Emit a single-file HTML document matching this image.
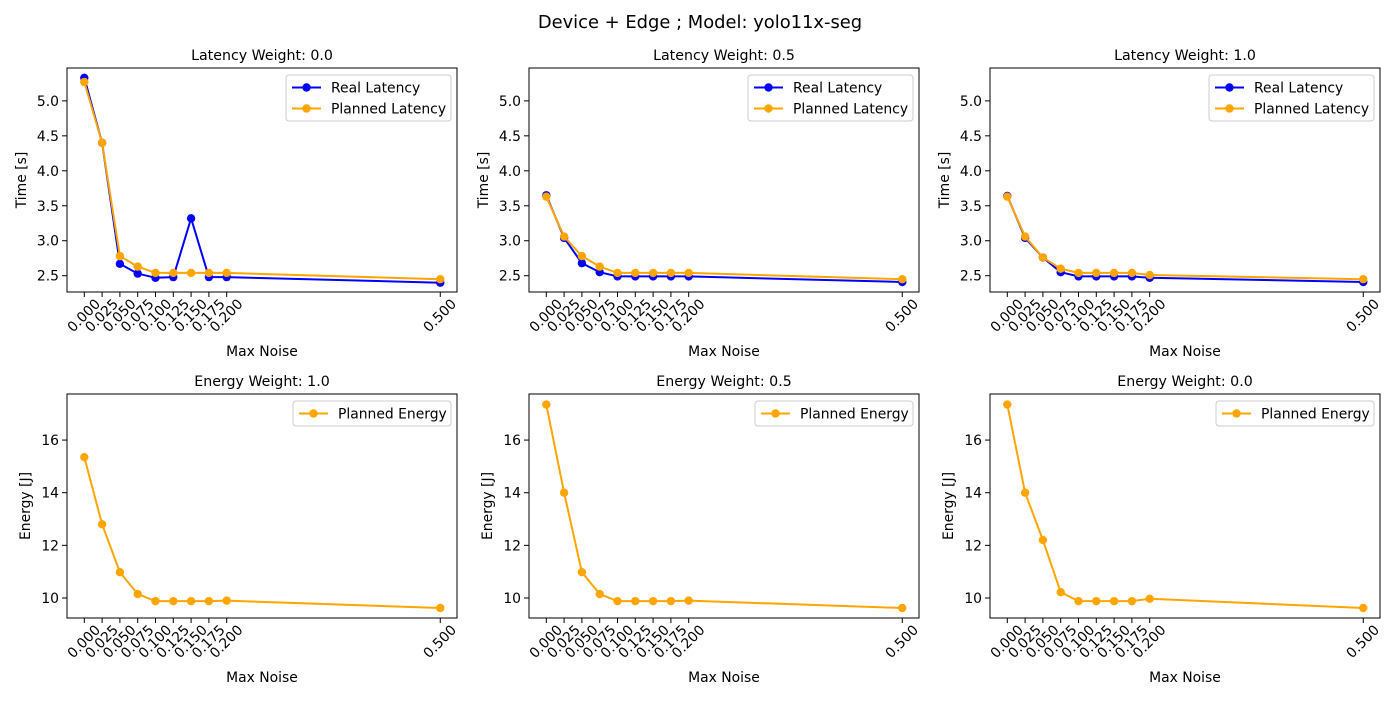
<!DOCTYPE html>
<html><head><meta charset="utf-8"><style>
body{margin:0;background:#fff;}
svg{font-family:"DejaVu Sans","Liberation Sans",sans-serif;}
</style></head><body>
<svg id="fig" width="1400" height="700" xmlns="http://www.w3.org/2000/svg">
<rect width="1400" height="700" fill="#fff"/>
<text x="700" y="28" text-anchor="middle" font-size="17.9" fill="#000">Device + Edge ; Model: yolo11x-seg</text>
</svg>
<script>
const noise = [0, 0.025, 0.05, 0.075, 0.1, 0.125, 0.15, 0.175, 0.2, 0.5];
const xTickLabels = ["0.000","0.025","0.050","0.075","0.100","0.125","0.150","0.175","0.200","0.500"];
const realLat0 = [5.33, 4.40, 2.67, 2.53, 2.47, 2.48, 3.32, 2.48, 2.48, 2.40];
const planLat0 = [5.27, 4.40, 2.78, 2.63, 2.54, 2.54, 2.54, 2.54, 2.54, 2.45];
const realLat1 = [3.65, 3.04, 2.68, 2.55, 2.49, 2.49, 2.49, 2.49, 2.49, 2.41];
const planLat1 = [3.63, 3.06, 2.78, 2.63, 2.54, 2.54, 2.54, 2.54, 2.54, 2.45];
const realLat2 = [3.64, 3.04, 2.76, 2.55, 2.49, 2.49, 2.49, 2.49, 2.47, 2.41];
const planLat2 = [3.63, 3.06, 2.76, 2.60, 2.54, 2.54, 2.54, 2.54, 2.51, 2.45];
const energy0 = [15.35, 12.8, 10.98, 10.15, 9.88, 9.88, 9.88, 9.88, 9.9, 9.62];
const energy1 = [17.35, 14.0, 10.98, 10.15, 9.88, 9.88, 9.88, 9.88, 9.9, 9.62];
const energy2 = [17.35, 14.0, 12.2, 10.22, 9.88, 9.88, 9.88, 9.88, 9.97, 9.62];
const latTicks = [2.5, 3.0, 3.5, 4.0, 4.5, 5.0];
const energyTicks = [10, 12, 14, 16];
const latTitles = ["Latency Weight: 0.0","Latency Weight: 0.5","Latency Weight: 1.0"];
const energyTitles = ["Energy Weight: 1.0","Energy Weight: 0.5","Energy Weight: 0.0"];

const NS = "http://www.w3.org/2000/svg";
const svg = document.getElementById('fig');
function el(tag, attrs, parent){const e=document.createElementNS(NS,tag);for(const k in attrs)e.setAttribute(k,attrs[k]);(parent||svg).appendChild(e);return e;}

const lefts=[67,529,990], W=390;
const xMin=-0.0243, xMax=0.5235;
const FS='13.9';

function panel(col, top, bottom, yMin, yMax, yTicks, yFmt, title, ylabel, series, legendW){
  const L=lefts[col], R=L+W;
  const g=el('g',{});
  
  
  const sx=v=>L+(v-xMin)/(xMax-xMin)*W;
  const sy=v=>bottom-(v-yMin)/(yMax-yMin)*(bottom-top);
  const t=el('text',{x:L+W/2,y:top-8,'text-anchor':'middle','font-size':'14.2',fill:'#000'},g);
  t.textContent=title;
  
  
  noise.forEach((v,i)=>{
    const x=sx(v);
    el('line',{x1:x,x2:x,y1:bottom,y2:bottom+5,stroke:'#000','stroke-width':1},g);
    const tl=el('text',{transform:`translate(${x},${bottom+24}) rotate(-45)`,'text-anchor':'middle','dominant-baseline':'central','font-size':FS,fill:'#000'},g);
    tl.textContent=xTickLabels[i];
    
    
  });
  yTicks.forEach(v=>{
    const y=sy(v);
    el('line',{x1:L-5,x2:L,y1:y,y2:y,stroke:'#000','stroke-width':1},g);
    const tl=el('text',{x:L-8,y:y+5,'text-anchor':'end','font-size':FS,fill:'#000'},g);
    tl.textContent=yFmt(v);
    
    
  });
  const xl=el('text',{x:L+W/2,y:bottom+64,'text-anchor':'middle','font-size':FS,fill:'#000'},g);
  xl.textContent='Max Noise';
  
  
  const ylx=L-(ylabel==='Time [s]'?41:37);
  const yl=el('text',{transform:`translate(${ylx},${(top+bottom)/2}) rotate(-90)`,'text-anchor':'middle','font-size':FS,fill:'#000'},g);
  yl.textContent=ylabel;
  
  
  series.forEach(s=>{
    const pts=s.data.map((v,i)=>sx(noise[i])+','+sy(v)).join(' ');
    const pl=el('polyline',{points:pts,fill:'none',stroke:s.color,'stroke-width':2},g);
    
    
    s.data.forEach((v,i)=>{
      const c=el('circle',{cx:sx(noise[i]),cy:sy(v),r:4.2,fill:s.color},g);
      
      
    });
  });
  el('rect',{x:L,y:top,width:W,height:bottom-top,fill:'none',stroke:'#000','stroke-width':1},g);
  const lh=series.length*21+4;
  const lx=R-6-legendW, ly=top+7;
  const lg=el('g',{},g);
  
  
  el('rect',{x:lx,y:ly,width:legendW,height:lh,rx:3,fill:'#fff','fill-opacity':0.8,stroke:'#ccc'},lg);
  series.forEach((s,i)=>{
    const y=ly+12.5+i*21;
    el('line',{x1:lx+6,x2:lx+35,y1:y,y2:y,stroke:s.color,'stroke-width':2},lg);
    el('circle',{cx:lx+20.5,cy:y,r:4.2,fill:s.color},lg);
    const tx=el('text',{x:lx+45,y:y+5,'font-size':FS,fill:'#000'},lg);
    tx.textContent=s.label;
    
    
  });
}
const lat=[[realLat0,planLat0],[realLat1,planLat1],[realLat2,planLat2]];
const en=[energy0,energy1,energy2];
for(let c=0;c<3;c++){
  panel(c,68,292,2.267,5.47,latTicks,v=>v.toFixed(1),latTitles[c],'Time [s]',[
    {data:lat[c][0],color:'#0000ff',label:'Real Latency',key:'real-latency'},
    {data:lat[c][1],color:'#ffa500',label:'Planned Latency',key:'planned-latency'}],165);
  panel(c,394,618,9.24,17.75,energyTicks,v=>String(v),energyTitles[c],'Energy [J]',[
    {data:en[c],color:'#ffa500',label:'Planned Energy',key:'planned-energy'}],158);
}
</script>
</body></html>
